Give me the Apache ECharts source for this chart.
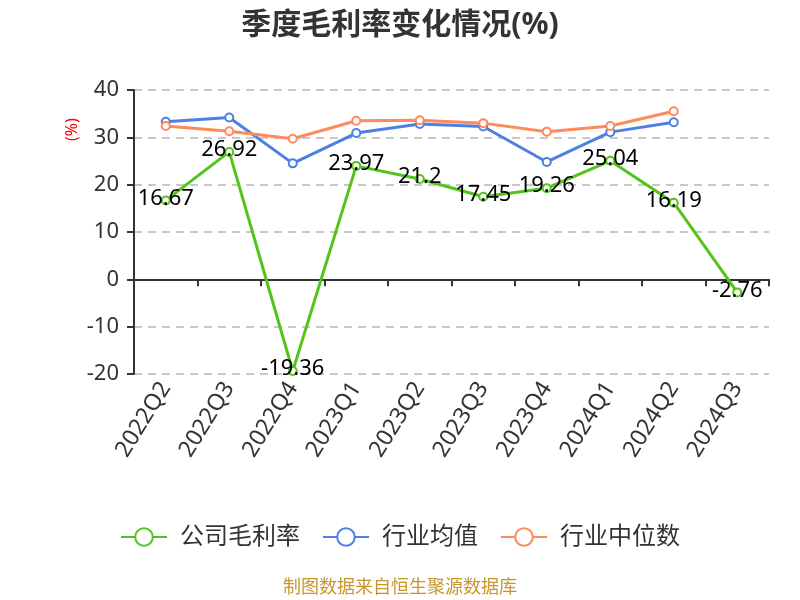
<!DOCTYPE html>
<html>
<head>
<meta charset="utf-8">
<script src="https://cdn.jsdelivr.net/npm/echarts@6/dist/echarts.min.js"></script>
<style>
  html, body { margin: 0; padding: 0; background: #fff; }
  #main { width: 800px; height: 600px; }
</style>
</head>
<body>
<div id="main"></div>
<script>
const quarters = ['2022Q2', '2022Q3', '2022Q4', '2023Q1', '2023Q2', '2023Q3', '2023Q4', '2024Q1', '2024Q2', '2024Q3'];
const companyMargin = [16.67, 26.92, -19.36, 23.97, 21.2, 17.45, 19.26, 25.04, 16.19, -2.76];
const industryAvg = [33.3, 34.2, 24.5, 30.9, 32.8, 32.3, 24.8, 31.1, 33.2, null];
const industryMedian = [32.4, 31.3, 29.7, 33.5, 33.6, 33.0, 31.2, 32.4, 35.5, null];
const yTicks = [-20, -10, 0, 10, 20, 30, 40];

const font = '"Noto Sans", "Noto Sans CJK SC", sans-serif';

const myChart = echarts.init(document.getElementById('main'));

const lineStyle = (color) => ({
  type: 'line',
  symbol: 'emptyCircle',
  symbolSize: 8,
  lineStyle: { width: 3, color: color },
  itemStyle: { color: color, borderWidth: 2 },
  emphasis: { disabled: true }
});

const option = {
  animation: false,
  textStyle: { fontFamily: font },
  title: {
    text: '季度毛利率变化情况(%)',
    left: 'center',
    top: 5,
    textStyle: { fontSize: 30, fontWeight: 'bold', color: '#333', fontFamily: font }
  },
  legend: {
    bottom: 46,
    left: 'center',
    itemWidth: 46,
    itemHeight: 22,
    itemGap: 22,
    textStyle: { fontSize: 24, color: '#333', fontFamily: font, padding: [0, 0, 0, 8] },
    data: ['公司毛利率', '行业均值', '行业中位数']
  },
  graphic: [
    {
      type: 'text',
      left: 'center',
      bottom: 3,
      style: { text: '制图数据来自恒生聚源数据库', fill: '#c8962e', fontSize: 18, fontFamily: font }
    },
    {
      type: 'text',
      x: 64,
      y: 141,
      rotation: Math.PI / 2,
      style: { text: '(%)', fill: '#ff0000', fontSize: 16, fontFamily: font }
    }
  ],
  grid: { left: 134, right: 31, top: 90, bottom: 226 },
  xAxis: [
    {
      type: 'category',
      data: quarters,
      axisLine: { onZero: true, lineStyle: { color: '#333', width: 2 } },
      axisTick: { show: true, length: 7, lineStyle: { color: '#333', width: 2 } },
      axisLabel: { show: false }
    },
    {
      type: 'category',
      data: quarters,
      position: 'bottom',
      axisLine: { show: false, onZero: false },
      axisTick: { show: false },
      axisLabel: { rotate: 58, fontSize: 23, color: '#333', margin: 10, fontFamily: font }
    }
  ],
  yAxis: {
    type: 'value',
    min: yTicks[0],
    max: yTicks[yTicks.length - 1],
    interval: 10,
    axisLine: { show: true, lineStyle: { color: '#333', width: 2 } },
    axisTick: { show: true, length: 7, lineStyle: { color: '#333', width: 2 } },
    axisLabel: { fontSize: 22, color: '#333', margin: 15, fontFamily: font },
    splitLine: { lineStyle: { type: [8, 6], color: '#c8c8c8', width: 2 } }
  },
  series: [
    Object.assign(lineStyle('#52c41a'), {
      name: '公司毛利率',
      data: companyMargin,
      z: 5,
      label: {
        show: true,
        position: 'inside',
        offset: [0, -2],
        fontSize: 22,
        color: '#000',
        fontFamily: font
      }
    }),
    Object.assign(lineStyle('#4e7fe3'), {
      name: '行业均值',
      data: industryAvg
    }),
    Object.assign(lineStyle('#ff8a5a'), {
      name: '行业中位数',
      data: industryMedian
    })
  ]
};

myChart.setOption(option);
</script>
</body>
</html>
